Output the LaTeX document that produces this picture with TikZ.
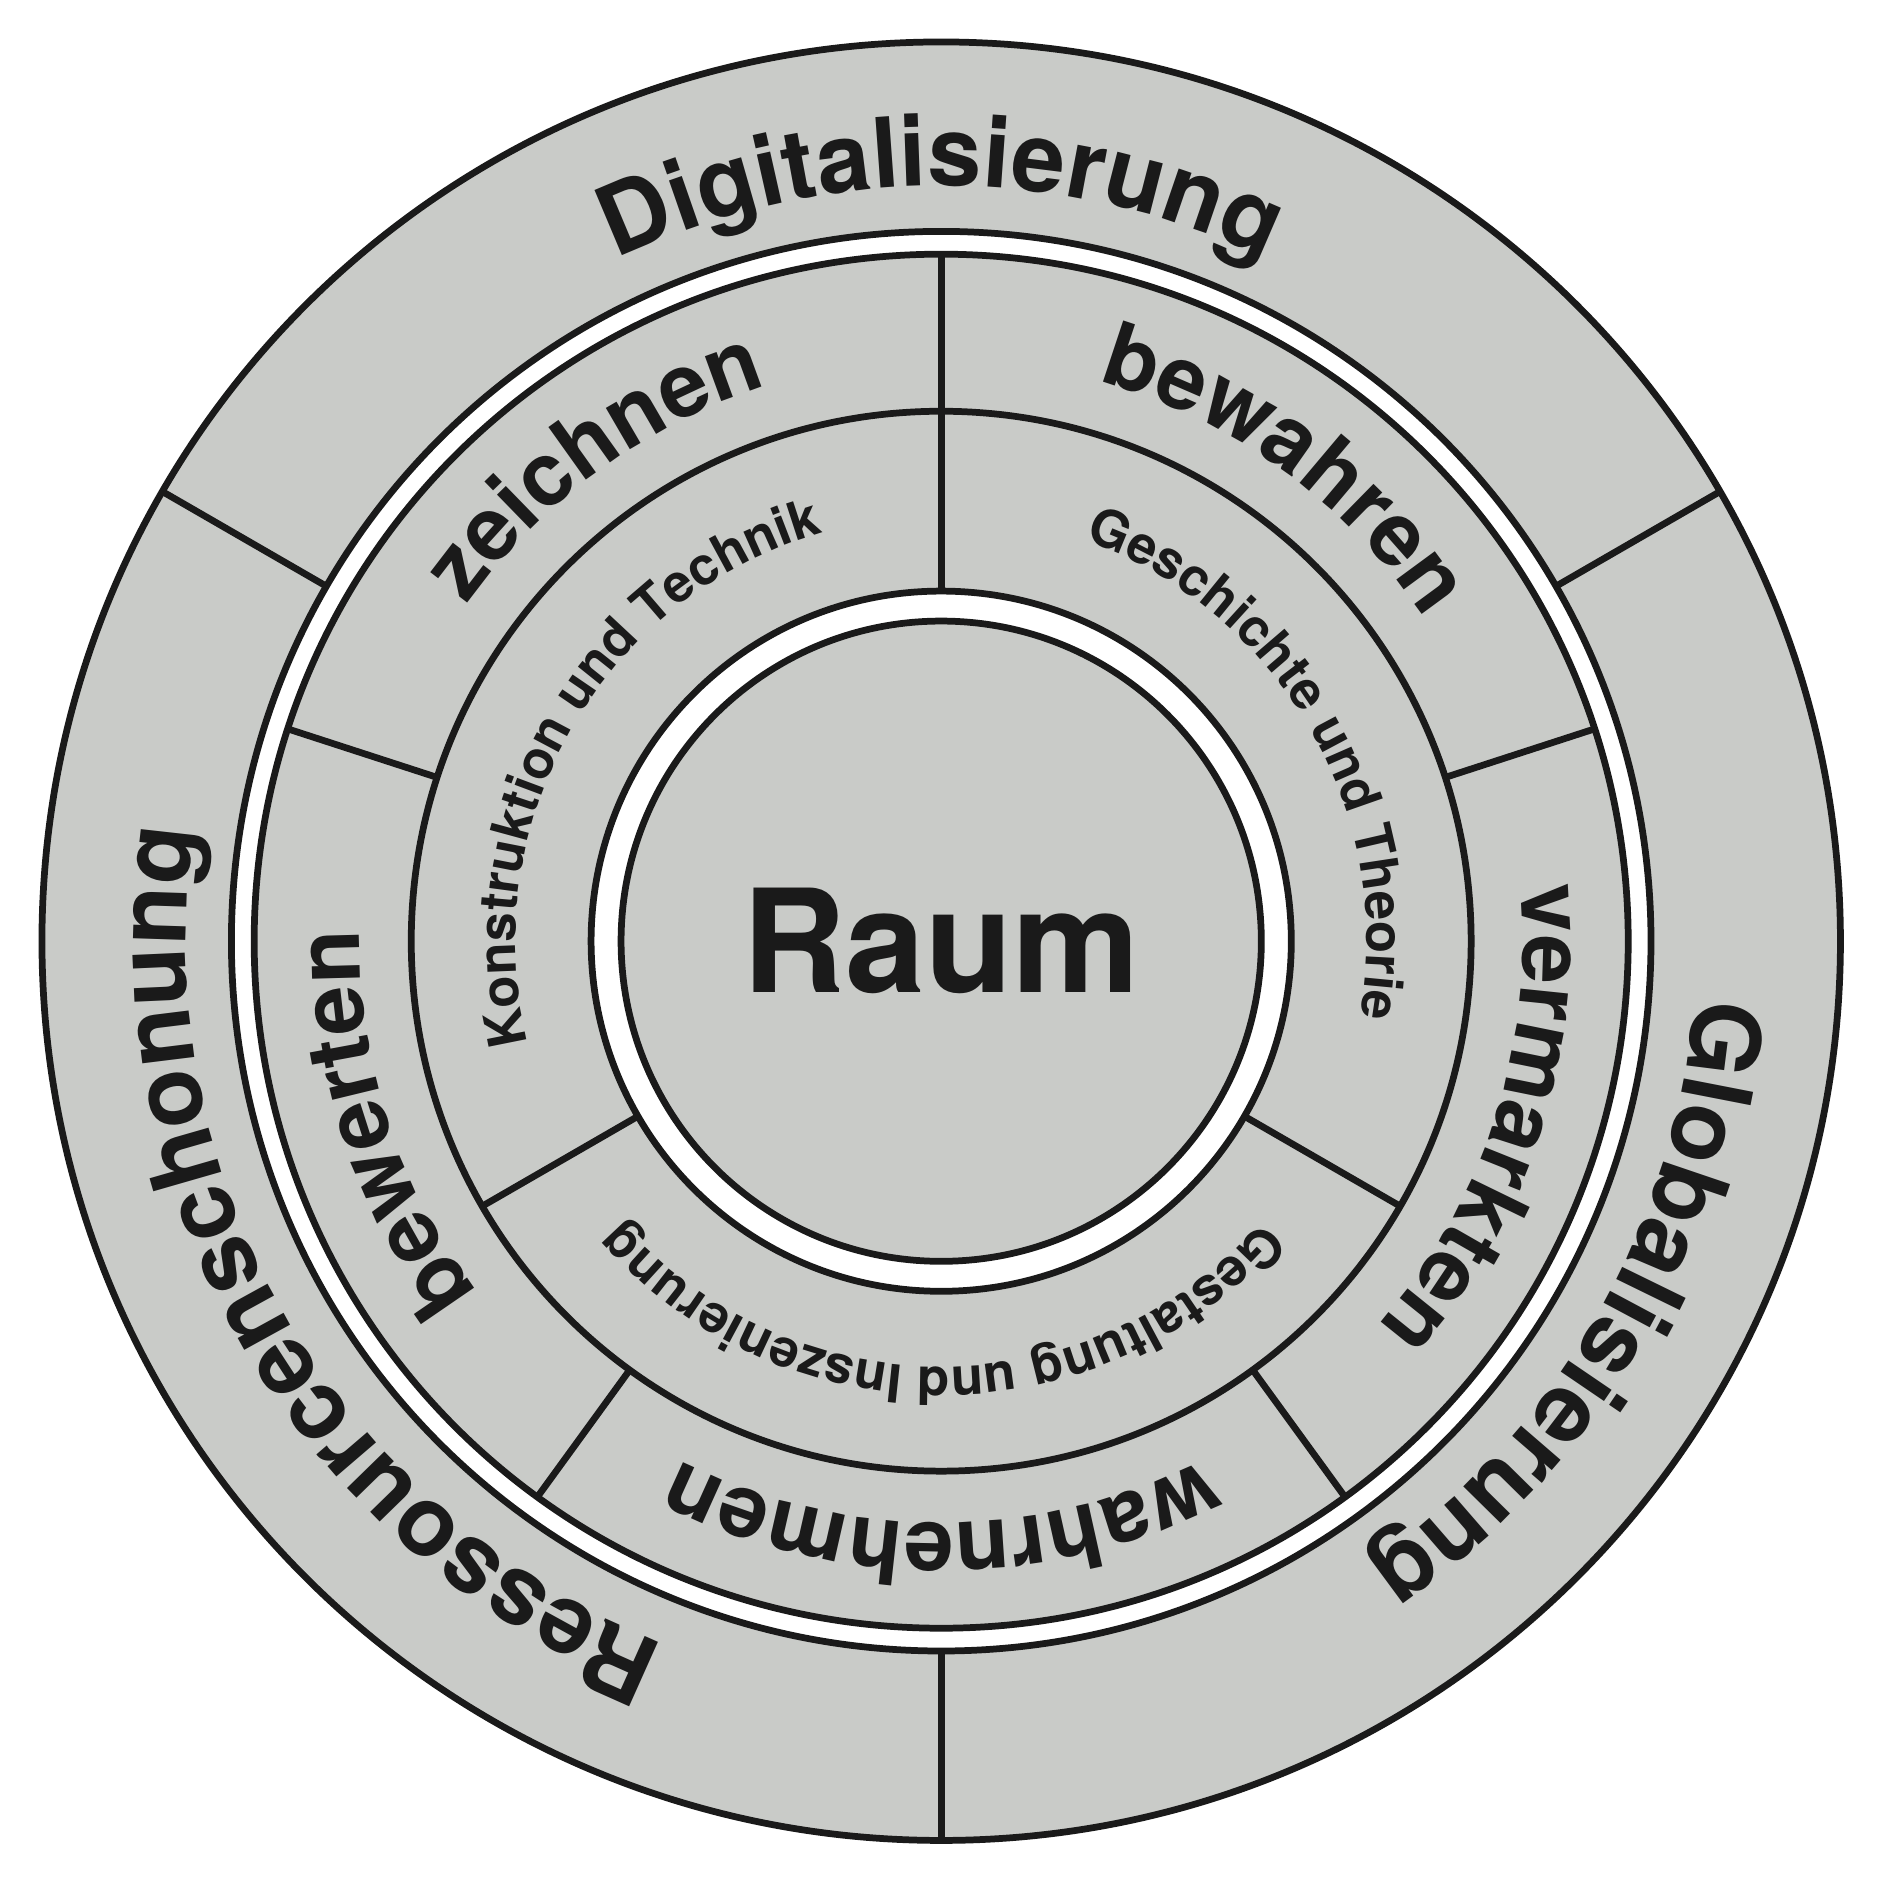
\documentclass[tikz,border=0pt]{standalone}
\usepackage{fontspec}
\setmainfont{TeX Gyre Heros}
\usetikzlibrary{decorations.text}
\definecolor{ringgray}{HTML}{C9CBC8}
\definecolor{ink}{HTML}{1A1A1A}
\tikzset{
  ringline/.style={draw=ink, line width=1.6pt},
  arclabel/.style={decorate, decoration={text along path, text align=center, text color=ink, text={#1}}}
}
\newcommand{\outerfont}{\fontsize{23}{23}\bfseries}
\newcommand{\midfont}{\fontsize{21}{21}\bfseries}
\newcommand{\innerfont}{\fontsize{12.5}{12.5}\bfseries}
\begin{document}
\begin{tikzpicture}
  \useasboundingbox (-7.85,-7.83) rectangle (7.83,7.85);
  % rings
  \fill[ringgray, ringline] (0,0) circle (7.5);
  \fill[white, ringline] (0,0) circle (5.92);
  \fill[ringgray, ringline] (0,0) circle (5.73);
  \draw[ringline] (0,0) circle (4.42);
  \fill[white, ringline] (0,0) circle (2.92);
  \fill[ringgray, ringline] (0,0) circle (2.67);
  % dividers
  \foreach \a in {30,150,270} \draw[ringline] (\a:5.92) -- (\a:7.5);
  \foreach \a in {18,90,162,234,306} \draw[ringline] (\a:4.42) -- (\a:5.73);
  \foreach \a in {90,210,330} \draw[ringline] (\a:2.92) -- (\a:4.42);
  % outer labels
  \path[arclabel={|\outerfont|Digitalisierung}] (150:6.3) arc[start angle=150, end angle=30, radius=6.3];
  \path[arclabel={|\outerfont|Ressourcenschonung}] (270:6.3) arc[start angle=270, end angle=150, radius=6.3];
  \path[arclabel={|\outerfont|Globalisierung}] (30:6.3) arc[start angle=30, end angle=-90, radius=6.3];
  % middle labels
  \path[arclabel={|\midfont|zeichnen}] (162:4.85) arc[start angle=162, end angle=90, radius=4.85];
  \path[arclabel={|\midfont|bewerten}] (234:4.85) arc[start angle=234, end angle=162, radius=4.85];
  \path[arclabel={|\midfont|wahrnehmen}] (306:4.85) arc[start angle=306, end angle=234, radius=4.85];
  \path[arclabel={|\midfont|vermarkten}] (18:4.85) arc[start angle=18, end angle=-54, radius=4.85];
  \path[arclabel={|\midfont|bewahren}] (90:4.85) arc[start angle=90, end angle=18, radius=4.85];
  % inner labels
  \path[arclabel={|\innerfont|Konstruktion und Technik}] (210:3.55) arc[start angle=210, end angle=90, radius=3.55];
  \path[arclabel={|\innerfont|Geschichte und Theorie}] (90:3.55) arc[start angle=90, end angle=-30, radius=3.55];
  \path[arclabel={|\innerfont|Gestaltung und Inszenierung}] (330:3.55) arc[start angle=330, end angle=210, radius=3.55];
  % centre
  \node[text=ink, font=\fontsize{34}{34}\bfseries] (raum) at (0,0) {Raum};
\end{tikzpicture}
\end{document}
